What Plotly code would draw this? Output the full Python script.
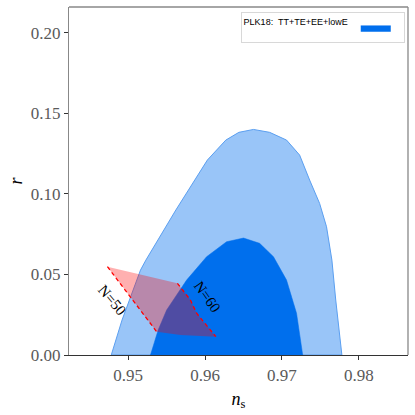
import plotly.graph_objects as go

# marginalised n_s - r contours (95% outer, 68% inner)
outer_ns = [0.9478, 0.9492, 0.9516, 0.9523, 0.9562, 0.9603, 0.9627, 0.9644, 0.9663,
            0.9684, 0.9706, 0.9723, 0.9736, 0.9749, 0.9758, 0.9765, 0.9770, 0.9778]
outer_r = [0.0, 0.0217, 0.0527, 0.0589, 0.0900, 0.1210, 0.1334, 0.1382, 0.1400,
           0.1382, 0.1334, 0.1241, 0.1086, 0.0941, 0.0796, 0.0589, 0.0341, 0.0]

inner_ns = [0.9529, 0.9539, 0.9550, 0.9576, 0.9602, 0.9628, 0.9650, 0.9671, 0.9689,
            0.9706, 0.9719, 0.9726, 0.9727]
inner_r = [0.0, 0.0155, 0.0279, 0.0465, 0.0610, 0.0703, 0.0726, 0.0693, 0.0610,
           0.0465, 0.0259, 0.0051, 0.0]

# model prediction band between N=50 and N=60
band_ns = [0.9473, 0.9503, 0.9537, 0.9564, 0.9581, 0.9589, 0.9614, 0.9568, 0.9537, 0.9503, 0.9473]
band_r = [0.0548, 0.0514, 0.0476, 0.0445, 0.0341, 0.0259, 0.0114, 0.0124, 0.0145, 0.0362, 0.0548]

n50_ns = [0.9473, 0.9503, 0.9537]
n50_r = [0.0548, 0.0362, 0.0145]
n60_ns = [0.9564, 0.9581, 0.9589, 0.9614]
n60_r = [0.0445, 0.0341, 0.0259, 0.0114]

labels = ['N=50', 'N=60']
label_ns = [0.9479, 0.9603]
label_r = [0.0341, 0.0360]
label_angle = [50, 55]

xticks = [0.95, 0.96, 0.97, 0.98]
yticks = [0.00, 0.05, 0.10, 0.15, 0.20]

serif = 'Liberation Serif, DejaVu Serif, serif'
sans = 'Liberation Sans, Arial, sans-serif'

fig = go.Figure()

fig.add_trace(go.Scatter(x=outer_ns + [outer_ns[0]], y=outer_r + [outer_r[0]], fill='toself',
                         mode='lines', line=dict(color='#5b9ff0', width=1),
                         fillcolor='rgb(153,197,248)', showlegend=False, hoverinfo='skip'))
fig.add_trace(go.Scatter(x=inner_ns + [inner_ns[0]], y=inner_r + [inner_r[0]], fill='toself',
                         mode='lines', line=dict(color='#006FED', width=0.5),
                         fillcolor='#006FED', name=' ', showlegend=True, hoverinfo='skip'))
fig.add_trace(go.Scatter(x=band_ns, y=band_r, fill='toself', mode='lines',
                         line=dict(width=0), fillcolor='rgba(255,0,0,0.31)',
                         showlegend=False, hoverinfo='skip'))
for xs, ys in [(n50_ns, n50_r), (n60_ns, n60_r)]:
    fig.add_trace(go.Scatter(x=xs, y=ys, mode='lines',
                             line=dict(color='red', width=1.3, dash='4px,3px'),
                             showlegend=False, hoverinfo='skip'))

for t, x, y, a in zip(labels, label_ns, label_r, label_angle):
    fig.add_annotation(x=x, y=y, text=t, showarrow=False, textangle=a,
                       font=dict(family=serif, size=15, color='black'))

fig.update_layout(
    width=415, height=415,
    margin=dict(l=69, r=7, t=7, b=60),
    plot_bgcolor='white', paper_bgcolor='white',
    font=dict(family=serif, size=17, color='#5a5a5a'),
    legend=dict(x=0.99, y=0.985, xanchor='right', yanchor='top',
                orientation='h', bgcolor='white', bordercolor='#d8d8d8', borderwidth=1,
                title=dict(text='PLK18:  TT+TE+EE+lowE', side='left',
                           font=dict(family=sans, size=9, color='black')),
                font=dict(family=sans, size=9, color='black'),
                itemwidth=30),
    xaxis=dict(range=[0.9423, 0.9864], tickvals=xticks, tickformat='.2f',
               ticks='outside', ticklen=4, tickcolor='#333', showgrid=False, zeroline=False,
               showline=True, linecolor='#333', linewidth=1.3, mirror=False,
               title=dict(text='<i>n</i><sub>s</sub>', font=dict(color='black', size=18),
                          standoff=8)),
    yaxis=dict(range=[0, 0.216], tickvals=yticks, tickformat='.2f',
               ticks='outside', ticklen=4, tickcolor='#333', showgrid=False, zeroline=False,
               showline=True, linecolor='#888', linewidth=1.3,
               title=dict(text='<i>r</i>', font=dict(color='black', size=18), standoff=3)),
)

# grey frame on top and right
fig.add_shape(type='line', xref='paper', yref='paper', x0=0, x1=1, y0=1, y1=1,
              line=dict(color='#888', width=1.3))
fig.add_shape(type='line', xref='paper', yref='paper', x0=1, x1=1, y0=0, y1=1,
              line=dict(color='#888', width=1.3))

fig.write_html("out.html", config={'displayModeBar': False},
               post_script="document.body.style.margin='0';")
